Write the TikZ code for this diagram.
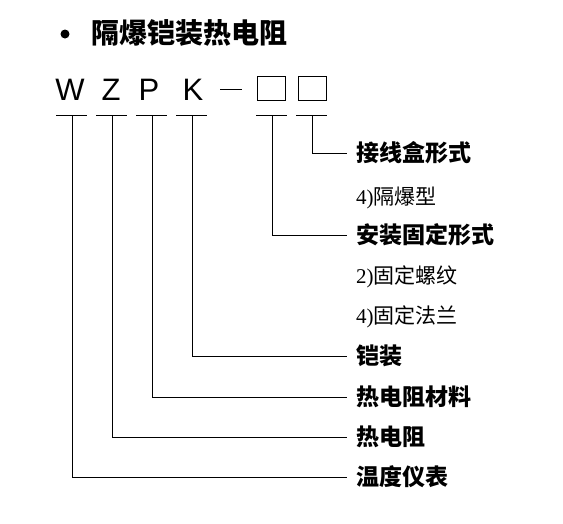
\documentclass[tikz,border=0pt]{standalone}
\usepackage{fontspec}
\setmainfont{Liberation Serif}
\setsansfont{Liberation Sans}
\newfontfamily\cjk{Noto Sans CJK SC}
\usetikzlibrary{calc,positioning}
\tikzset{%
	code/.style  = {font=\sffamily\fontsize{31}{31}\selectfont, inner sep=0pt},
	slot/.style  = {draw, line width=1pt, minimum width=28pt, minimum height=24pt, inner sep=0pt},
	item/.style  = {anchor=west, inner sep=3pt, outer sep=6pt, font=\cjk\bfseries\fontsize{23}{23}\selectfont},
	choice/.style= {anchor=west, inner sep=3pt, outer sep=6pt, font=\fontsize{21}{21}\selectfont},
	lead/.style  = {line width=0.6pt},
}

\begin{document}
\begin{tikzpicture}[x=1pt,y=-1pt]
	\useasboundingbox (0,0) rectangle (563,523);
	% title
	\node[circle, fill, inner sep=0pt, minimum size=9pt] (dot) at (65,34) {};
	\node[anchor=west, inner sep=0pt, font=\cjk\bfseries\fontsize{28}{28}\selectfont] (title) at (91,33) {隔爆铠装热电阻};
	% type code
	\node[code, anchor=base] (W) at (70,100) {W};
	\node[code, anchor=base] (Z) at (111,100) {Z};
	\node[code, anchor=base] (P) at (149,100) {P};
	\node[code, anchor=base] (K) at (193,100) {K};
	\draw[line width=0.9pt] (220,89) -- (242,89);
	\node[slot] (box1) at (271,88) {};
	\node[slot] (box2) at (312,88) {};
	% underline points
	\coordinate (uW) at (72,115);
	\coordinate (uZ) at (112,115);
	\coordinate (uP) at (152,115);
	\coordinate (uK) at (192,115);
	\coordinate (uA) at (272,115);
	\coordinate (uB) at (312,115);
	\foreach \u in {uW,uZ,uP,uK,uA,uB}
		\draw[lead] ($(\u)+(-16,0)$) -- ($(\u)+(15,0)$);
	% labels
	\node[item] (housing) at (347,153) {接线盒形式};
	\node[choice] (flame) at (347,198) {4)\cjk 隔爆型};
	\node[item] (mount) at (347,235) {安装固定形式};
	\node[choice] (thread) at (347,277) {2)\cjk 固定螺纹};
	\node[choice] (flange) at (347,317) {4)\cjk 固定法兰};
	\node[item] (armour) at (347,356) {铠装};
	\node[item] (material) at (347,397) {热电阻材料};
	\node[item] (rtd) at (347,437) {热电阻};
	\node[item] (meter) at (347,477) {温度仪表};
	% connectors
	\draw[lead] (uB) |- (housing.west);
	\draw[lead] (uA) |- (mount.west);
	\draw[lead] (uK) |- (armour.west);
	\draw[lead] (uP) |- (material.west);
	\draw[lead] (uZ) |- (rtd.west);
	\draw[lead] (uW) |- (meter.west);
\end{tikzpicture}
\end{document}
